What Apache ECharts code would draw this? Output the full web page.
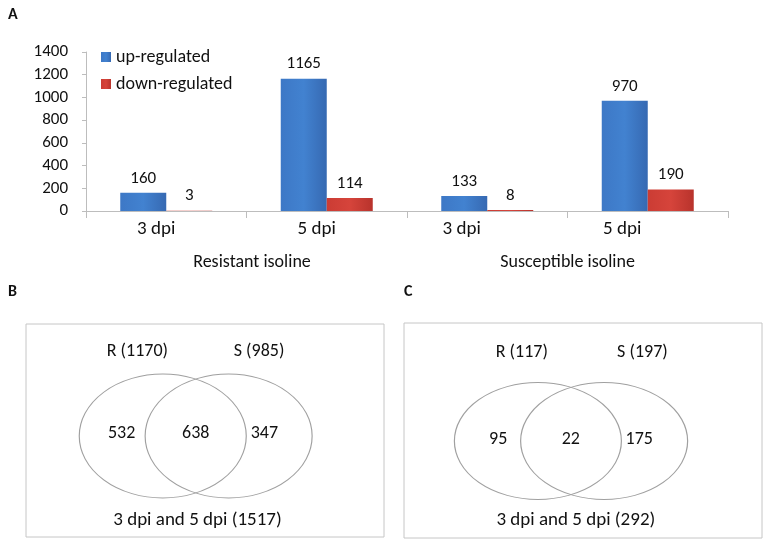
<!DOCTYPE html>
<html>
<head>
<meta charset="utf-8">
<script src="https://cdn.jsdelivr.net/npm/echarts@6/dist/echarts.min.js"></script>
<style>
html,body{margin:0;padding:0;background:#fff;}
#chart{width:765px;height:549px;}
</style>
</head>
<body>
<div id="chart"></div>
<script>
// ---- Panel A data ----
var categories = ['3 dpi', '5 dpi', '3 dpi', '5 dpi'];
var groups = ['Resistant isoline', 'Susceptible isoline'];
var upRegulated = [160, 1165, 133, 970];
var downRegulated = [3, 114, 8, 190];
var yTicks = [0, 200, 400, 600, 800, 1000, 1200, 1400];

// ---- Panel B data (up-regulated) ----
var setTotalsB = [1170, 985];
var regionCountsB = [532, 638, 347];
var unionB = 1517;

// ---- Panel C data (down-regulated) ----
var setTotalsC = [117, 197];
var regionCountsC = [95, 22, 175];
var unionC = 292;

var FONT = 'Carlito, Lato, sans-serif';
var TXT = '#111';
var FS = 17;   // numbers
var FW = 19;   // words

function grad(c1, c2, c3) {
  return new echarts.graphic.LinearGradient(0, 0, 1, 0, [
    {offset: 0, color: c1}, {offset: 0.5, color: c2}, {offset: 1, color: c3}
  ]);
}
var blue = grad('#3d78c6', '#4282d0', '#3669b2');
var red = grad('#cb3c34', '#d6443b', '#b8332c');

// Venn layout helpers (positions are layout, in % of box)
function vennSeries(xIdx, yIdx, totals, regions, union, ell, pos) {
  var s = [];
  s.push({
    type: 'scatter', xAxisIndex: xIdx, yAxisIndex: yIdx, silent: true,
    symbol: 'circle', symbolSize: ell.size,
    itemStyle: {color: 'rgba(255,255,255,0)', borderColor: '#a0a0a0', borderWidth: 1, opacity: 1},
    data: [[ell.x[0], ell.y], [ell.x[1], ell.y]], z: 2
  });
  var labels = [];
  labels.push({value: [pos.setX[0], pos.setY], name: 'R (' + totals[0] + ')'});
  labels.push({value: [pos.setX[1], pos.setY], name: 'S (' + totals[1] + ')'});
  for (var i = 0; i < regions.length; i++) {
    labels.push({value: [pos.regX[i], pos.regY], name: String(regions[i]), label: {fontSize: 18}});
  }
  labels.push({value: [pos.uniX, pos.uniY], name: '3 dpi and 5 dpi (' + union + ')', label: {fontSize: FW}});
  s.push({
    type: 'scatter', xAxisIndex: xIdx, yAxisIndex: yIdx, silent: true,
    symbolSize: 1, itemStyle: {color: 'rgba(255,255,255,0)', opacity: 1}, data: labels, z: 3,
    label: {show: true, position: 'inside', formatter: function (p) { return p.name; },
      color: TXT, fontSize: FW - 1, fontFamily: FONT, opacity: 1}
  });
  return s;
}

var hiddenAxis = function (idx, inverse) {
  return {type: 'value', gridIndex: idx, min: 0, max: 100, show: false, inverse: !!inverse};
};

var series = [
  {
    name: 'up-regulated', type: 'bar', xAxisIndex: 0, yAxisIndex: 0,
    data: upRegulated, barWidth: 46, barGap: '0%',
    itemStyle: {color: blue},
    label: {show: true, position: 'top', distance: 6, color: TXT, fontSize: FS, fontFamily: FONT}
  },
  {
    name: 'down-regulated', type: 'bar', xAxisIndex: 0, yAxisIndex: 0,
    data: downRegulated, barWidth: 46, barGap: '0%',
    itemStyle: {color: red},
    label: {show: true, position: 'top', distance: 6, color: TXT, fontSize: FS, fontFamily: FONT}
  }
].concat(
  vennSeries(2, 1, setTotalsB, regionCountsB, unionB,
    {size: [167, 124], x: [38.2, 56.6], y: 52.6},
    {setX: [31.1, 65.1], setY: 12.7, regX: [26.7, 47.4, 66.6], regY: 51.3, uniX: 47.9, uniY: 92.3}),
  vennSeries(3, 2, setTotalsC, regionCountsC, unionC,
    {size: [167, 117], x: [37.4, 55.9], y: 54.9},
    {setX: [32.9, 66.6], setY: 13.5, regX: [26.3, 46.6, 65.7], regY: 54.4, uniX: 48.0, uniY: 91.6})
);

var option = {
  backgroundColor: '#fff',
  animation: false,
  title: [
    {text: 'A', left: 3, top: 2, textStyle: {fontSize: 16, fontWeight: 'bold', fontFamily: FONT, color: TXT}},
    {text: 'B', left: 3, top: 279, textStyle: {fontSize: 16, fontWeight: 'bold', fontFamily: FONT, color: TXT}},
    {text: 'C', left: 399, top: 279, textStyle: {fontSize: 16, fontWeight: 'bold', fontFamily: FONT, color: TXT}}
  ],
  legend: {
    orient: 'vertical', left: 96, top: 43, itemWidth: 10, itemHeight: 10, itemGap: 9,
    icon: 'rect',
    data: ['up-regulated', 'down-regulated'],
    textStyle: {fontSize: 18, fontFamily: FONT, color: TXT}
  },
  grid: [
    {left: 86, right: 37, top: 52, bottom: 338},
    {left: 26, top: 324, width: 358, height: 213, show: true, borderColor: '#c6c6c6', borderWidth: 1, backgroundColor: 'transparent'},
    {left: 404, top: 323, width: 358, height: 215, show: true, borderColor: '#c6c6c6', borderWidth: 1, backgroundColor: 'transparent'}
  ],
  xAxis: [
    {
      type: 'category', gridIndex: 0, data: categories,
      axisLine: {lineStyle: {color: '#bdbdbd'}},
      axisTick: {show: true, length: 7, lineStyle: {color: '#bdbdbd'}},
      axisLabel: {
        margin: 9, color: TXT, fontSize: FW, fontFamily: FONT,
        formatter: function (v, i) { return (i < 2 ? '{r|' : '{s|') + v + '}'; },
        rich: {
          r: {fontSize: FW, fontFamily: FONT, color: TXT, padding: [0, 20, 0, 0]},
          s: {fontSize: FW, fontFamily: FONT, color: TXT, padding: [0, 51, 0, 0]}
        }
      }
    },
    {
      type: 'category', gridIndex: 0, data: groups, position: 'bottom', offset: 34,
      axisLine: {show: false}, axisTick: {show: false},
      axisLabel: {
        margin: 8, color: TXT, fontSize: 18, fontFamily: FONT,
        formatter: function (v, i) { return (i === 0 ? '{r|' : '{s|') + v + '}'; },
        rich: {
          r: {fontSize: 18, fontFamily: FONT, color: TXT, padding: [0, 0, 0, 11]},
          s: {fontSize: 18, fontFamily: FONT, color: TXT}
        }
      }
    },
    hiddenAxis(1), hiddenAxis(2)
  ],
  yAxis: [
    {
      type: 'value', gridIndex: 0, min: yTicks[0], max: yTicks[yTicks.length - 1],
      interval: yTicks[1] - yTicks[0],
      axisLine: {show: true, lineStyle: {color: '#bdbdbd'}},
      axisTick: {show: true, length: 4, lineStyle: {color: '#bdbdbd'}},
      splitLine: {show: false},
      axisLabel: {margin: 18, color: TXT, fontSize: FS, fontFamily: FONT,
        formatter: function (v) { return String(v); }}
    },
    hiddenAxis(1, true), hiddenAxis(2, true)
  ],
  series: series
};

var chart = echarts.init(document.getElementById('chart'), null, {renderer: 'canvas'});
chart.setOption(option);
</script>
</body>
</html>
